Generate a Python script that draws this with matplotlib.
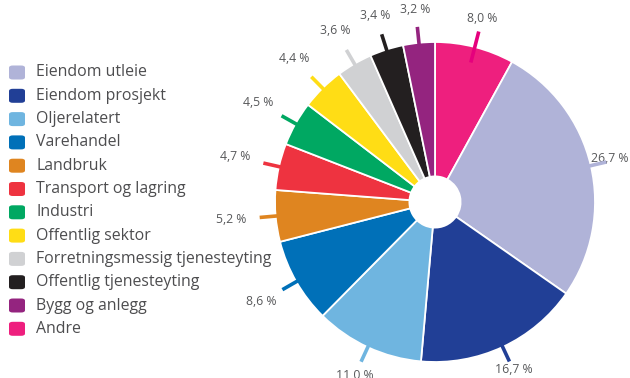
import numpy as np
import matplotlib.pyplot as plt
from matplotlib.patches import FancyBboxPatch

# sectors, clockwise from 12 o'clock
sectors = ['Andre', 'Eiendom utleie', 'Eiendom prosjekt', 'Oljerelatert', 'Varehandel',
           'Landbruk', 'Transport og lagring', 'Industri', 'Offentlig sektor',
           'Forretningsmessig tjenesteyting', 'Offentlig tjenesteyting', 'Bygg og anlegg']
shares = [8.0, 26.7, 16.7, 11.0, 8.6, 5.2, 4.7, 4.5, 4.4, 3.6, 3.4, 3.2]
colors = ['#ee1f7e', '#b0b3d8', '#213f96', '#6fb5e0', '#0070b8', '#df8520',
          '#ee3340', '#00a862', '#ffdd15', '#d0d1d3', '#231f20', '#94247f']
line_colors = ['#e5007d', '#b0b3d8', '#213f96', '#6fb5e0', '#0070b8', '#df8520',
               '#ee3340', '#00a862', '#ffdd15', '#d0d1d3', '#231f20', '#94247f']
legend_order = ['Eiendom utleie', 'Eiendom prosjekt', 'Oljerelatert', 'Varehandel', 'Landbruk',
                'Transport og lagring', 'Industri', 'Offentlig sektor',
                'Forretningsmessig tjenesteyting', 'Offentlig tjenesteyting', 'Bygg og anlegg', 'Andre']

plt.rcParams['font.family'] = ['Open Sans', 'DejaVu Sans']
txt_color = '#58595b'

fig = plt.figure(figsize=(6.3, 3.78), dpi=100)
W, H = 630, 378
cx, cy, R = 435, 202, 160
L = 1.25
S = 2 * L * R
ax = fig.add_axes([(cx - S / 2) / W, (H - cy - S / 2) / H, S / W, S / H])
ax.set_xlim(-L, L)
ax.set_ylim(-L, L)
ax.axis('off')

wedges, _ = ax.pie(shares, colors=colors, startangle=90, counterclock=False,
                   radius=1.0, wedgeprops=dict(width=0.84, edgecolor='white', linewidth=1.3))
for w in wedges:
    w.set_clip_on(False)

# leader lines and labels
for w, val, lc in zip(wedges, shares, line_colors):
    ang = np.deg2rad((w.theta1 + w.theta2) / 2)
    c, s = np.cos(ang), np.sin(ang)
    ax.plot([0.9 * c, 1.1 * c], [0.9 * s, 1.1 * s], color=lc, lw=2.6,
            solid_capstyle='butt', clip_on=False, zorder=5)
    r = 1.2 - 0.08 * c + 0.04 * min(s, 0) * (c < 0)
    ax.text(r * c, r * s + 0.02 * max(c, 0), f'{val:.1f} %'.replace('.', ','),
            ha='center', va='center', fontsize=8.8, color=txt_color, clip_on=False)

# legend
col_of = dict(zip(sectors, colors))
for i, name in enumerate(legend_order):
    y = 72.5 + i * 23.3
    box = FancyBboxPatch((9 / W, (H - y - 7) / H), 16 / W, 14 / H,
                         boxstyle='round,pad=0,rounding_size=0.006',
                         transform=fig.transFigure, facecolor=col_of[name], edgecolor='none')
    fig.patches.append(box)
    fig.text(36 / W, (H - y) / H, name, ha='left', va='center', fontsize=11.4, color='#4d4d4f')

fig.savefig('out.png', dpi=100)
